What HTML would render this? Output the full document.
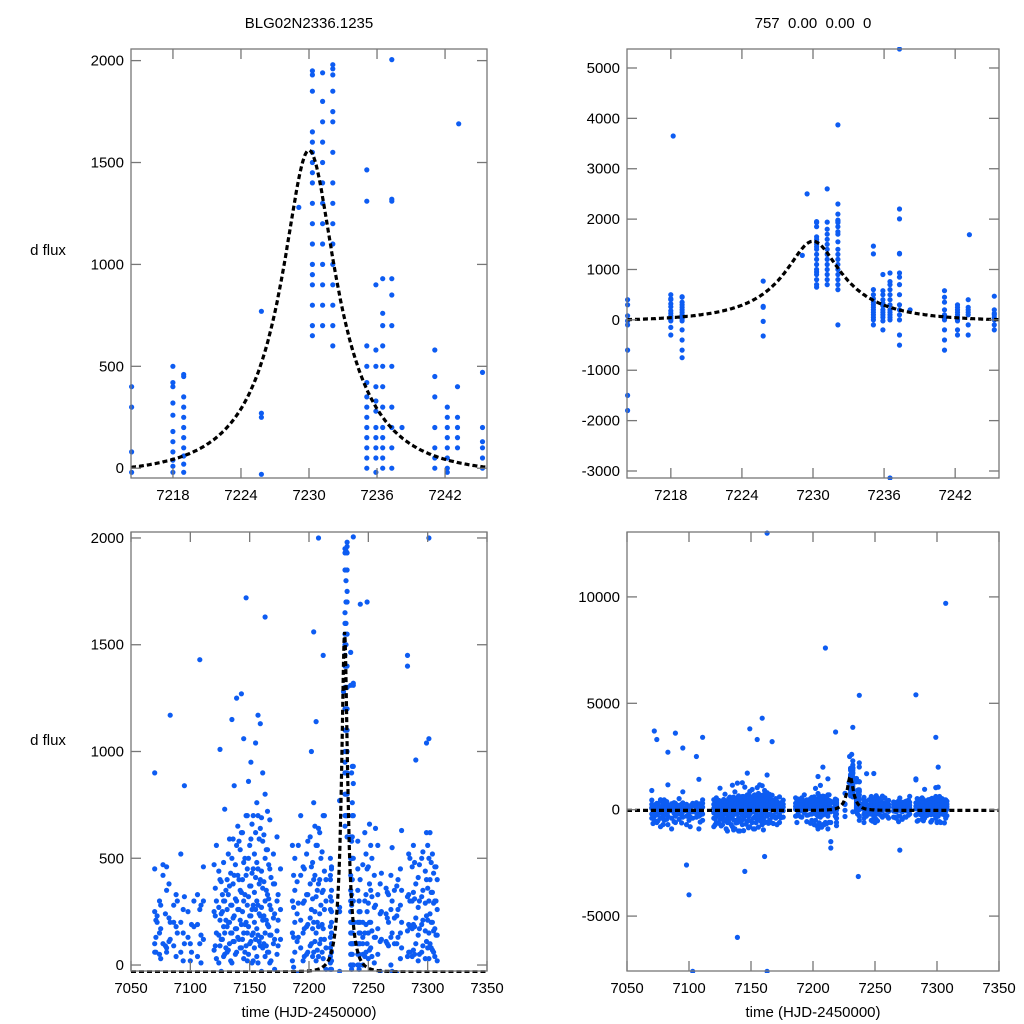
<!DOCTYPE html>
<html><head><meta charset="utf-8"><style>
html,body{margin:0;padding:0;background:#fff;}
svg{display:block;font-family:"Liberation Sans",sans-serif;}
</style></head><body>
<svg id="chart" width="1024" height="1024" viewBox="0 0 1024 1024">
<text x="309" y="28" font-size="15" text-anchor="middle">BLG02N2336.1235</text>
<text x="813" y="28" font-size="15" text-anchor="middle" xml:space="preserve">757  0.00  0.00  0</text>
<text x="48" y="255" font-size="15" text-anchor="middle">d flux</text>
<text x="48" y="745" font-size="15" text-anchor="middle">d flux</text>
<text x="309" y="1017" font-size="15" text-anchor="middle">time (HJD-2450000)</text>
<text x="813" y="1017" font-size="15" text-anchor="middle">time (HJD-2450000)</text>
</svg>
<script>
// observation nights and their flux values
const nightTimes = [7070,7072,7074,7077,7080,7083,7086,7089,7092,7095,7098,7100,7103,7106,7108,7111,
7120,7122,7125,7127,7129,7131,7133,7135,7137,7139,7141,7143,7145,7147,7149,7151,7153,7155,7157,7159,7161,7163,7165,7167,7170,7173,7176,
7186,7188,7191,7193,7196,7199,7202,7204,7206,7208,7210,7212,
7214.35,7218.0,7218.2,7218.95,7225.8,7229.1,7229.5,7230.3,7231.2,7232.1,7235.1,7235.9,7236.5,7237.3,7238.2,7241.1,7242.2,7243.1,7243.2,7245.3,
7247,7249,7251,7253,7256,7258,7261,7265,7267,7270,7272,7275,7278,7283,7285,7288,7290,7293,7296,7299,7301,7303,7305,7307,
7071,7075,7079,7082,7088,7094,7101,7109,
7121,7124,7126,7128,7130,7132,7134,7136,7138,7140,7142,7144,7146,7148,7150,7152,7154,7156,7158,7160,7162,7164,7166,7168,7171,7174,
7187,7190,7195,7198,7201,7203,7205,7207,7209,7211,7213,
7248,7250,7252,7255,7260,7266,7269,7274,7277,7284,7287,7289,7292,7295,7298,7300,7302,7304,7306,7308];
const nightFluxes = [
[450,250,100,-200,-400,900,60],[230,200,-100,-300,3700,-500],[300,150,50,-250,-600,3300],[420,100,-150,-400,-800,470],
[460,350,80,-200,-500,60],[1170,200,120,-100,-300,-700,2700],[280,200,90,-50,-400,-900],[300,150,-150,-300,3600,-600],
[520,200,60,-200,-450],[840,320,100,-100,-350,2900],[250,130,-50,-300,-2600,-700],[100,20,-200,-500,-4000],
[-7600,300,180,-100,-400],[330,190,40,-150,-350,2500],[1430,260,100,-50,-300,-900],[460,300,120,-200,-500,3400],
[470,250,70,-150,-400,-800],[560,300,150,30,-300,-600],[1010,400,210,90,-100,-450],[330,250,120,-50,-300,-700],
[730,300,150,50,-200,-500],[400,260,180,60,-250,-600,-1000],[590,370,200,100,-100,-400],[1150,500,280,150,10,-300,-800],
[840,420,230,110,-150,-500,-900],[1250,560,300,170,60,-200,-600,-6000],[580,400,260,120,-80,-450,-1000],[1270,620,340,190,80,-250,-700],
[1060,480,300,150,30,-300,-2900],[1720,700,420,200,90,-150,-550],[860,500,320,180,50,-200,-800,3800],[950,590,370,230,110,-100,-600],
[700,450,280,150,20,-350,-900],[1040,620,410,260,120,-50,-500,3300],[1170,700,450,280,140,10,-400],[1130,640,400,230,90,-250,-700,4300],
[900,580,360,210,80,-150,-600,-2200],[1630,800,500,300,150,40,-300,-7600,13000],[720,540,330,190,60,-200,-500],[680,450,280,140,10,-350,3200],
[520,380,220,100,-100,-400],[600,300,160,50,-250,-600],[450,260,120,-50,-350],
[560,300,150,20,-300],[500,350,200,60,-200],[560,290,130,-40,-350],[700,420,210,80,-150],[450,300,170,40,-250],[580,330,190,60,-200,-500],
[1000,460,260,100,-100,-500],[1560,760,400,200,60,-300,-900],[1140,560,320,150,20,-350,-800],[2000,640,380,180,40,-250,-700],
[7600,500,280,120,-150,-600],[1450,700,350,170,30,-300,-900],
[400,80,-20,300,-100,-600,-1500,-1800],
[500,420,400,320,260,180,130,80,40,10,-20,-150,-300],
[3650],
[460,450,350,300,250,200,150,100,60,20,-20,-200,-400,-600,-750],
[770,270,250,-30,-320],
[1280],[2500],
[1950,1930,1850,1650,1600,1550,1500,1450,1400,1300,1200,1100,1000,950,900,800,700,650],
[1940,1800,1700,1600,1500,1400,1300,1200,1100,1000,900,800,700,2600],
[1980,1960,1930,1850,1750,1700,1550,1400,1300,1200,1100,1000,900,800,700,600,2300,2100,3870,-100],
[1464,1310,600,500,420,350,300,250,200,150,100,50,0,-100],
[900,580,500,400,330,280,200,150,100,50,-20,-200],
[930,760,700,600,500,400,300,200,150,100,50,0,-3139],
[5377,2200,2005,1320,1310,930,850,700,500,300,200,100,0,-300,-500],
[200],
[580,450,350,200,100,50,0,-200,-400,-600],
[300,250,200,150,100,50,0,-20,-200,-300],
[400,250,200,150,100,-100,-300],
[1690],
[470,200,130,100,50,0,-200,-100],
[620,300,150,40,-200,-500],[1700,450,250,100,-100,-400],[660,380,200,70,-150,-450],[500,320,160,40,-200],
[640,280,130,-50,-350],[560,330,170,50,-250],[430,250,120,-80,-400],[360,240,110,-60,-350],[330,200,90,-100,-400],
[550,300,150,-30,-300,-1900],[350,220,100,-100,-450],[400,260,130,-50,-350],[630,350,200,80,-200],
[1450,1400,5400,320,160,40,-250],[500,300,180,60,-200,-500],[560,340,190,70,-150,-450],[960,380,220,100,-100,-400],
[470,300,170,50,-200],[530,350,210,90,-150,-500],[1040,620,400,230,110,-50,-400,3400],[1060,500,300,150,30,-300,2000],
[480,340,200,80,-100,-600],[430,290,160,60,-200],[9700,460,300,140,-80,-400],
[210,130,60,-120,-380,-650],[280,170,30,-200,-520],[240,90,-80,-300,-700],[380,220,110,-60,-450],
[330,180,40,-170,-560],[260,150,20,-240,-620],[190,60,-110,-350,-800],[280,140,10,-260,-580],
[360,230,90,-90,-420,-720],[440,270,140,10,-230,-640],[390,240,120,-30,-310,-760],[480,300,180,40,-190,-520],
[350,210,80,-120,-440,-900],[520,330,200,70,-160,-580],[430,280,150,20,-270,-700],[590,380,220,110,-90,-480,-950],
[470,310,170,50,-210,-620],[650,420,260,130,-60,-400,-1000],[540,350,210,80,-180,-560],[620,400,250,120,-70,-450,-980],
[500,330,190,60,-230,-680],[700,450,280,150,20,-340,-850],[560,370,230,100,-130,-520],[660,430,260,140,10,-380,-900],
[520,340,200,80,-190,-610],[760,480,300,170,40,-300,-820],[590,380,240,110,-120,-540],[690,440,270,130,-30,-420,-950],
[610,390,230,100,-150,-580],[540,350,210,90,-200,-640],[470,310,180,60,-220,-600],[410,260,140,20,-260,-650],
[380,240,120,-20,-330,-700],[330,210,90,-70,-380],
[420,270,130,-10,-280,-600],[390,240,110,-40,-330],[460,290,150,20,-260,-560],[520,330,180,50,-210,-640],
[600,380,220,90,-170,-700],[480,310,170,40,-240,-750],[650,420,250,110,-140,-620],[560,350,200,70,-200,-820],
[620,400,240,100,-160,-700],[530,340,190,60,-230,-660],[700,440,260,120,-110,-590],
[520,330,190,60,-220,-540],[460,290,150,30,-250,-600],[560,350,200,80,-180,-520],[420,270,130,10,-280],
[380,240,110,-30,-320],[340,220,100,-50,-360],[420,260,130,0,-300,-560],[370,230,100,-40,-340],
[450,280,150,30,-260],[520,330,190,60,-210,-540],[460,300,170,40,-240],[480,310,180,50,-220,-520],
[410,270,140,20,-270],[500,320,190,60,-230,-580],[440,290,160,30,-250],[560,360,210,80,-190,-600],
[620,400,240,100,-150,-560],[520,340,200,70,-200],[460,300,170,40,-250,-620],[400,260,140,20,-280]];
// microlensing model parameters
const modelT0 = 7230.0, modelTE = 7.6, modelU0 = 0.31, modelFs = 680, modelBase = -32;
// tick labels
const xTicksZoom = [7218,7224,7230,7236,7242];
const xTicksFull = [7050,7100,7150,7200,7250,7300,7350];
const yTicksTL = [0,500,1000,1500,2000];
const yTicksTR = [-3000,-2000,-1000,0,1000,2000,3000,4000,5000];
const yTicksBL = [0,500,1000,1500,2000];
const yTicksBR = [-5000,0,5000,10000];

const NS='http://www.w3.org/2000/svg';
const svg=document.getElementById('chart');
function mk(tag,attrs,parent){const e=document.createElementNS(NS,tag);for(const k in attrs)e.setAttribute(k,attrs[k]);(parent||svg).appendChild(e);return e;}
function model(t){const u=Math.sqrt(modelU0*modelU0+Math.pow((t-modelT0)/modelTE,2));const A=(u*u+2)/(u*Math.sqrt(u*u+4));return modelBase+modelFs*(A-1);}

const panels=[
 {id:'top-left',x0:131,x1:487,y0:49,y1:478,xmin:7214.3,xmax:7245.7,ymin:-48,ymax:2057,xt:xTicksZoom,yt:yTicksTL},
 {id:'top-right',x0:627,x1:999,y0:49,y1:478,xmin:7214.3,xmax:7245.7,ymin:-3139,ymax:5377,xt:xTicksZoom,yt:yTicksTR},
 {id:'bottom-left',x0:131,x1:487,y0:532,y1:971,xmin:7050,xmax:7350,ymin:-28,ymax:2028,xt:xTicksFull,yt:yTicksBL},
 {id:'bottom-right',x0:627,x1:999,y0:532,y1:971,xmin:7050,xmax:7350,ymin:-7580,ymax:13050,xt:xTicksFull,yt:yTicksBR}
];
panels.forEach((p,pi)=>{
 const sx=t=>p.x0+(t-p.xmin)/(p.xmax-p.xmin)*(p.x1-p.x0);
 const sy=v=>p.y1-(v-p.ymin)/(p.ymax-p.ymin)*(p.y1-p.y0);
 const g=mk('g',{});
 
 
 const cp=mk('clipPath',{id:'cp'+pi},g);
 mk('rect',{x:p.x0-2,y:p.y0-2,width:p.x1-p.x0+4,height:p.y1-p.y0+4},cp);
 const pts=mk('g',{'clip-path':'url(#cp'+pi+')',fill:'#0d5cf2'},g);
 
 
 nightTimes.forEach((t,i)=>{
  if(t<p.xmin-0.3||t>p.xmax+0.3)return;
  nightFluxes[i].forEach(v=>{
   if(v<p.ymin-50||v>p.ymax+50)return;
   const c=mk('circle',{cx:sx(t).toFixed(1),cy:sy(v).toFixed(1),r:2.6},pts);
   
   
  });
 });
 let d='';
 for(let k=0;k<=600;k++){const t=p.xmin+(p.xmax-p.xmin)*k/600;d+=(k?'L':'M')+sx(t).toFixed(1)+','+sy(model(t)).toFixed(1);}
 const ml=mk('path',{d:d,fill:'none',stroke:'#000','stroke-width':3.2,'stroke-dasharray':'5,3','clip-path':'url(#cp'+pi+')'},g);
 
 
 const fr=mk('rect',{x:p.x0,y:p.y0,width:p.x1-p.x0,height:p.y1-p.y0,fill:'none',stroke:'#777','stroke-width':1.3},g);
 
 
 p.xt.forEach(t=>{
  const x=sx(t);
  mk('line',{x1:x,x2:x,y1:p.y1,y2:p.y1-10,stroke:'#777','stroke-width':1.3},g);
  mk('line',{x1:x,x2:x,y1:p.y0,y2:p.y0+10,stroke:'#777','stroke-width':1.3},g);
  const tl=mk('text',{x:x,y:p.y1+22,'font-size':15,'text-anchor':'middle'},g);
  tl.textContent=t;
  
  
 });
 p.yt.forEach(v=>{
  const y=sy(v);
  mk('line',{x1:p.x0,x2:p.x0+10,y1:y,y2:y,stroke:'#777','stroke-width':1.3},g);
  mk('line',{x1:p.x1,x2:p.x1-10,y1:y,y2:y,stroke:'#777','stroke-width':1.3},g);
  const tl=mk('text',{x:p.x0-7,y:y+5,'font-size':15,'text-anchor':'end'},g);
  tl.textContent=v;
  
  
 });
});
</script>
</body></html>
